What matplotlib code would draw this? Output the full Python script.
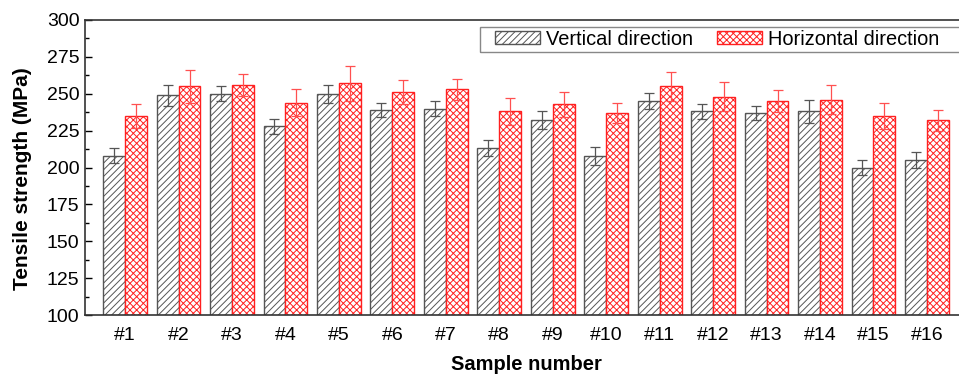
import matplotlib.pyplot as plt
import matplotlib.patches as mpatches
import numpy as np

plt.rcParams['font.family'] = ['Liberation Sans', 'DejaVu Sans']
plt.rcParams['hatch.linewidth'] = 0.7

samples = ['#1', '#2', '#3', '#4', '#5', '#6', '#7', '#8',
           '#9', '#10', '#11', '#12', '#13', '#14', '#15', '#16']
vertical = [208, 249, 250, 228, 250, 239, 240, 213, 232, 208, 245, 238, 237, 238, 200, 205]
vertical_err = [5, 7, 5, 5, 6, 5, 5, 5.5, 6, 6, 5.5, 5, 5, 7.5, 5, 5.5]
horizontal = [235, 255, 256, 244, 257, 251, 253, 238, 243, 237, 255, 248, 245, 246, 235, 232]
horizontal_err = [8, 11, 7.5, 9, 12, 8, 7, 9, 8.5, 7, 10, 10, 7.5, 10, 9, 7]

fig = plt.figure(figsize=[9.59, 3.75], dpi=100)
ax = fig.add_axes([85 / 959, 1 - 315 / 375, 882 / 959, 295 / 375])

x = np.arange(1, len(samples) + 1)
w = 0.41
ax.bar(x - w / 2, vertical, w, color='white', edgecolor='#555555', hatch='/////',
       linewidth=1.0, label='Vertical direction')
ax.bar(x + w / 2, horizontal, w, color='white', edgecolor='#ff2020', hatch='xxxxx',
       linewidth=1.0, label='Horizontal direction')
ax.errorbar(x - w / 2, vertical, yerr=vertical_err, fmt='none', ecolor='#555555',
            elinewidth=0.9, capsize=3.5, capthick=0.9)
ax.errorbar(x + w / 2, horizontal, yerr=horizontal_err, fmt='none', ecolor='#ff5050',
            elinewidth=0.9, capsize=3.5, capthick=0.9)

ax.set_xlim(0.25, 16.75)
ax.set_ylim(100, 300)
ax.set_xticks(x)
ax.set_xticklabels(samples)
ax.set_yticks(np.arange(100, 301, 25))
ax.set_yticks(np.arange(112.5, 300, 25), minor=True)
ax.tick_params(axis='y', which='major', direction='in', length=5, width=1, labelsize=14, pad=4)
ax.tick_params(axis='y', which='minor', direction='in', length=3, width=1)
ax.tick_params(axis='x', length=0, labelsize=14, pad=9)
for s in ax.spines.values():
    s.set_color('#333333')
    s.set_linewidth(1.2)

ax.set_xlabel('Sample number', fontsize=14.5, fontweight='bold', labelpad=7.5)
ax.set_ylabel('Tensile strength (MPa)', fontsize=15, fontweight='bold')
ax.yaxis.set_label_coords(-0.0596, 0.463)

leg = ax.legend(loc='upper right', ncol=2, fontsize=14.4, frameon=False,
                borderpad=0.2, borderaxespad=0, handlelength=2.25, handleheight=0.62,
                columnspacing=1.2, handletextpad=0.3, bbox_to_anchor=(0.973, 0.98))

# legend frame drawn a bit wider than the default one
fig.canvas.draw()
bb = leg.get_window_extent()
frame = mpatches.Rectangle((bb.x0 - 11, bb.y0 + 1), bb.width + 40, bb.height - 2,
                           transform=None, fill=False, edgecolor='#888888',
                           linewidth=1.0, zorder=5)
fig.patches.append(frame)

plt.savefig('out.png', dpi=100)
